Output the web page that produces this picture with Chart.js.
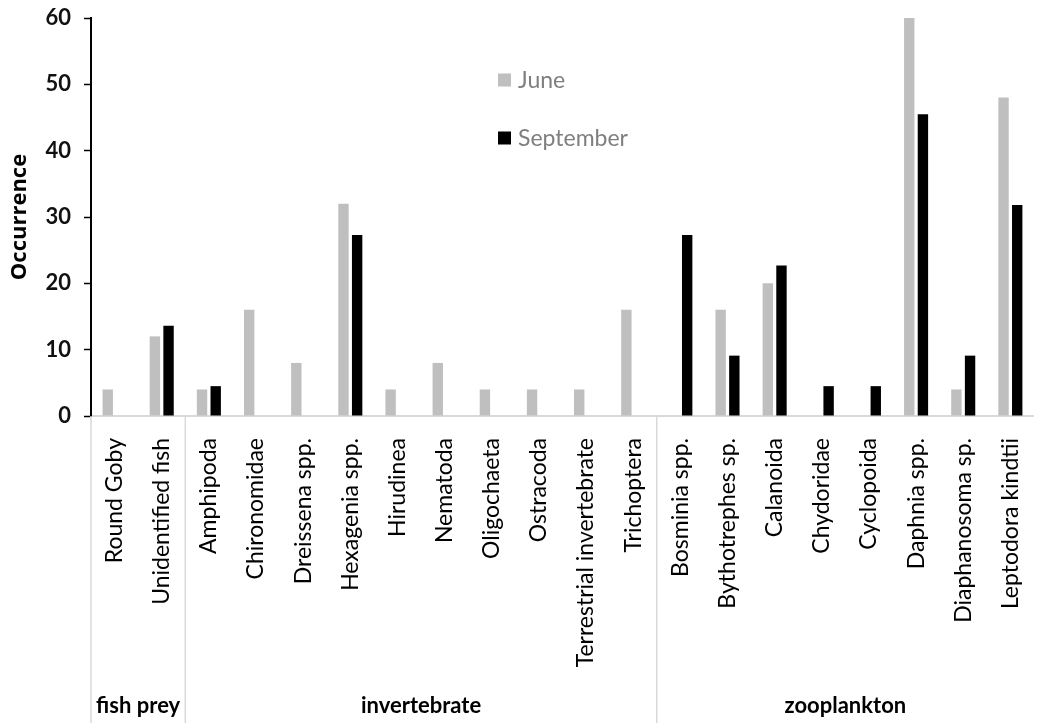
<!DOCTYPE html>
<html>
<head>
<meta charset="utf-8">
<script src="https://cdn.jsdelivr.net/npm/chart.js@4"></script>
<style>
  html, body { margin: 0; padding: 0; background: #fff; overflow: hidden; }
  #wrap { width: 1052px; height: 723px; position: relative; }
</style>
</head>
<body>
<div id="wrap"><canvas id="diet-chart"></canvas></div>
<script>
'use strict';

// Prey taxa, in plotting order.
const categories = [
    'Round Goby', 'Unidentified fish',
    'Amphipoda', 'Chironomidae', 'Dreissena spp.', 'Hexagenia spp.', 'Hirudinea',
    'Nematoda', 'Oligochaeta', 'Ostracoda', 'Terrestrial invertebrate', 'Trichoptera',
    'Bosminia spp.', 'Bythotrephes sp.', 'Calanoida', 'Chydoridae', 'Cyclopoida',
    'Daphnia spp.', 'Diaphanosoma sp.', 'Leptodora kindtii',
];

// Percent occurrence per month.
const june = [4, 12, 4, 16, 8, 32, 4, 8, 4, 4, 4, 16, 0, 16, 20, 0, 0, 60, 4, 48];
const september = [0, 13.6, 4.5, 0, 0, 27.3, 0, 0, 0, 0, 0, 0, 27.3, 9.1, 22.7, 4.5, 4.5, 45.5, 9.1, 31.8];

// Prey groups shown under the taxa labels.
const groupNames = ['fish prey', 'invertebrate', 'zooplankton'];
const groupSizes = [2, 10, 8];

const yTicks = [0, 10, 20, 30, 40, 50, 60];

const FONT = 'Lato';
const GREY = '#bfbfbf';
const RULE = '#d9d9d9';

/**
 * Draws the light separators and group names below the category axis.
 */
const groupAxisPlugin = {
    id: 'groupAxis',
    afterDraw(chart) {
        const {ctx, chartArea, scales: {x}} = chart;
        const step = x.getPixelForValue(1) - x.getPixelForValue(0);
        const bottom = chart.height;
        let start = 0;

        ctx.save();
        ctx.strokeStyle = RULE;
        ctx.lineWidth = 1.5;
        ctx.fillStyle = '#000';
        ctx.font = `bold 22px ${FONT}`;
        ctx.textAlign = 'center';
        ctx.textBaseline = 'alphabetic';

        groupNames.forEach((name, i) => {
            const left = x.getPixelForValue(start) - step / 2;
            const right = x.getPixelForValue(start + groupSizes[i] - 1) + step / 2;
            ctx.beginPath();
            ctx.moveTo(left, chartArea.bottom);
            ctx.lineTo(left, bottom);
            ctx.stroke();
            ctx.fillText(name, (left + right) / 2, 713);
            start += groupSizes[i];
        });
        ctx.restore();
    },
};

/**
 * Simple legend floating inside the plot.
 */
const floatLegendPlugin = {
    id: 'floatLegend',
    afterDraw(chart) {
        const {ctx} = chart;
        const rows = [80, 138];
        ctx.save();
        ctx.font = `23px ${FONT}`;
        ctx.textBaseline = 'middle';
        chart.data.datasets.forEach((ds, i) => {
            ctx.fillStyle = ds.backgroundColor;
            ctx.fillRect(498, rows[i] - 6.5, 13, 13);
            ctx.fillStyle = '#7f7f7f';
            ctx.fillText(ds.label, 518, rows[i] + 1);
        });
        ctx.restore();
    },
};

const renderChart = (canvasId) => {
    const data = {
        labels: categories,
        datasets: [
            {
                label: 'June',
                data: june,
                backgroundColor: GREY,
            },
            {
                label: 'September',
                data: september,
                backgroundColor: '#000000',
            },
        ],
    };

    const config = {
        type: 'bar',
        data: data,
        plugins: [groupAxisPlugin, floatLegendPlugin],
        options: {
            responsive: true,
            maintainAspectRatio: false,
            animation: false,
            categoryPercentage: 0.58,
            barPercentage: 0.76,
            layout: {padding: {top: 0, right: 1, bottom: 0, left: 0}},
            plugins: {
                legend: {display: false},
                tooltip: {enabled: false},
            },
            scales: {
                x: {
                    grid: {display: false},
                    border: {display: true, color: RULE, width: 2},
                    ticks: {
                        autoSkip: false,
                        minRotation: 90,
                        maxRotation: 90,
                        padding: 14,
                        color: '#000',
                        font: {family: FONT, size: 23},
                    },
                    afterFit: (scale) => {
                        scale.height = 307;
                    },
                },
                y: {
                    min: 0,
                    max: 60,
                    afterBuildTicks: (scale) => {
                        scale.ticks = yTicks.map((v) => ({value: v}));
                    },
                    grid: {
                        drawOnChartArea: false,
                        drawTicks: true,
                        tickLength: 7,
                        tickColor: '#000',
                        tickWidth: 1.5,
                    },
                    border: {display: true, color: '#000', width: 2},
                    ticks: {
                        padding: 13,
                        color: '#111',
                        font: {family: FONT, size: 22, weight: 'bold'},
                    },
                    title: {
                        display: true,
                        text: 'Occurrence',
                        color: '#000',
                        padding: {top: 7, bottom: 0},
                        font: {family: 'Open Sans', size: 22, weight: 'bold'},
                    },
                    afterFit: (scale) => {
                        scale.width = 91;
                        scale.paddingTop = 18;
                    },
                },
            },
        },
    };

    return new Chart(document.getElementById(canvasId), config);
};

renderChart('diet-chart');
</script>
</body>
</html>
